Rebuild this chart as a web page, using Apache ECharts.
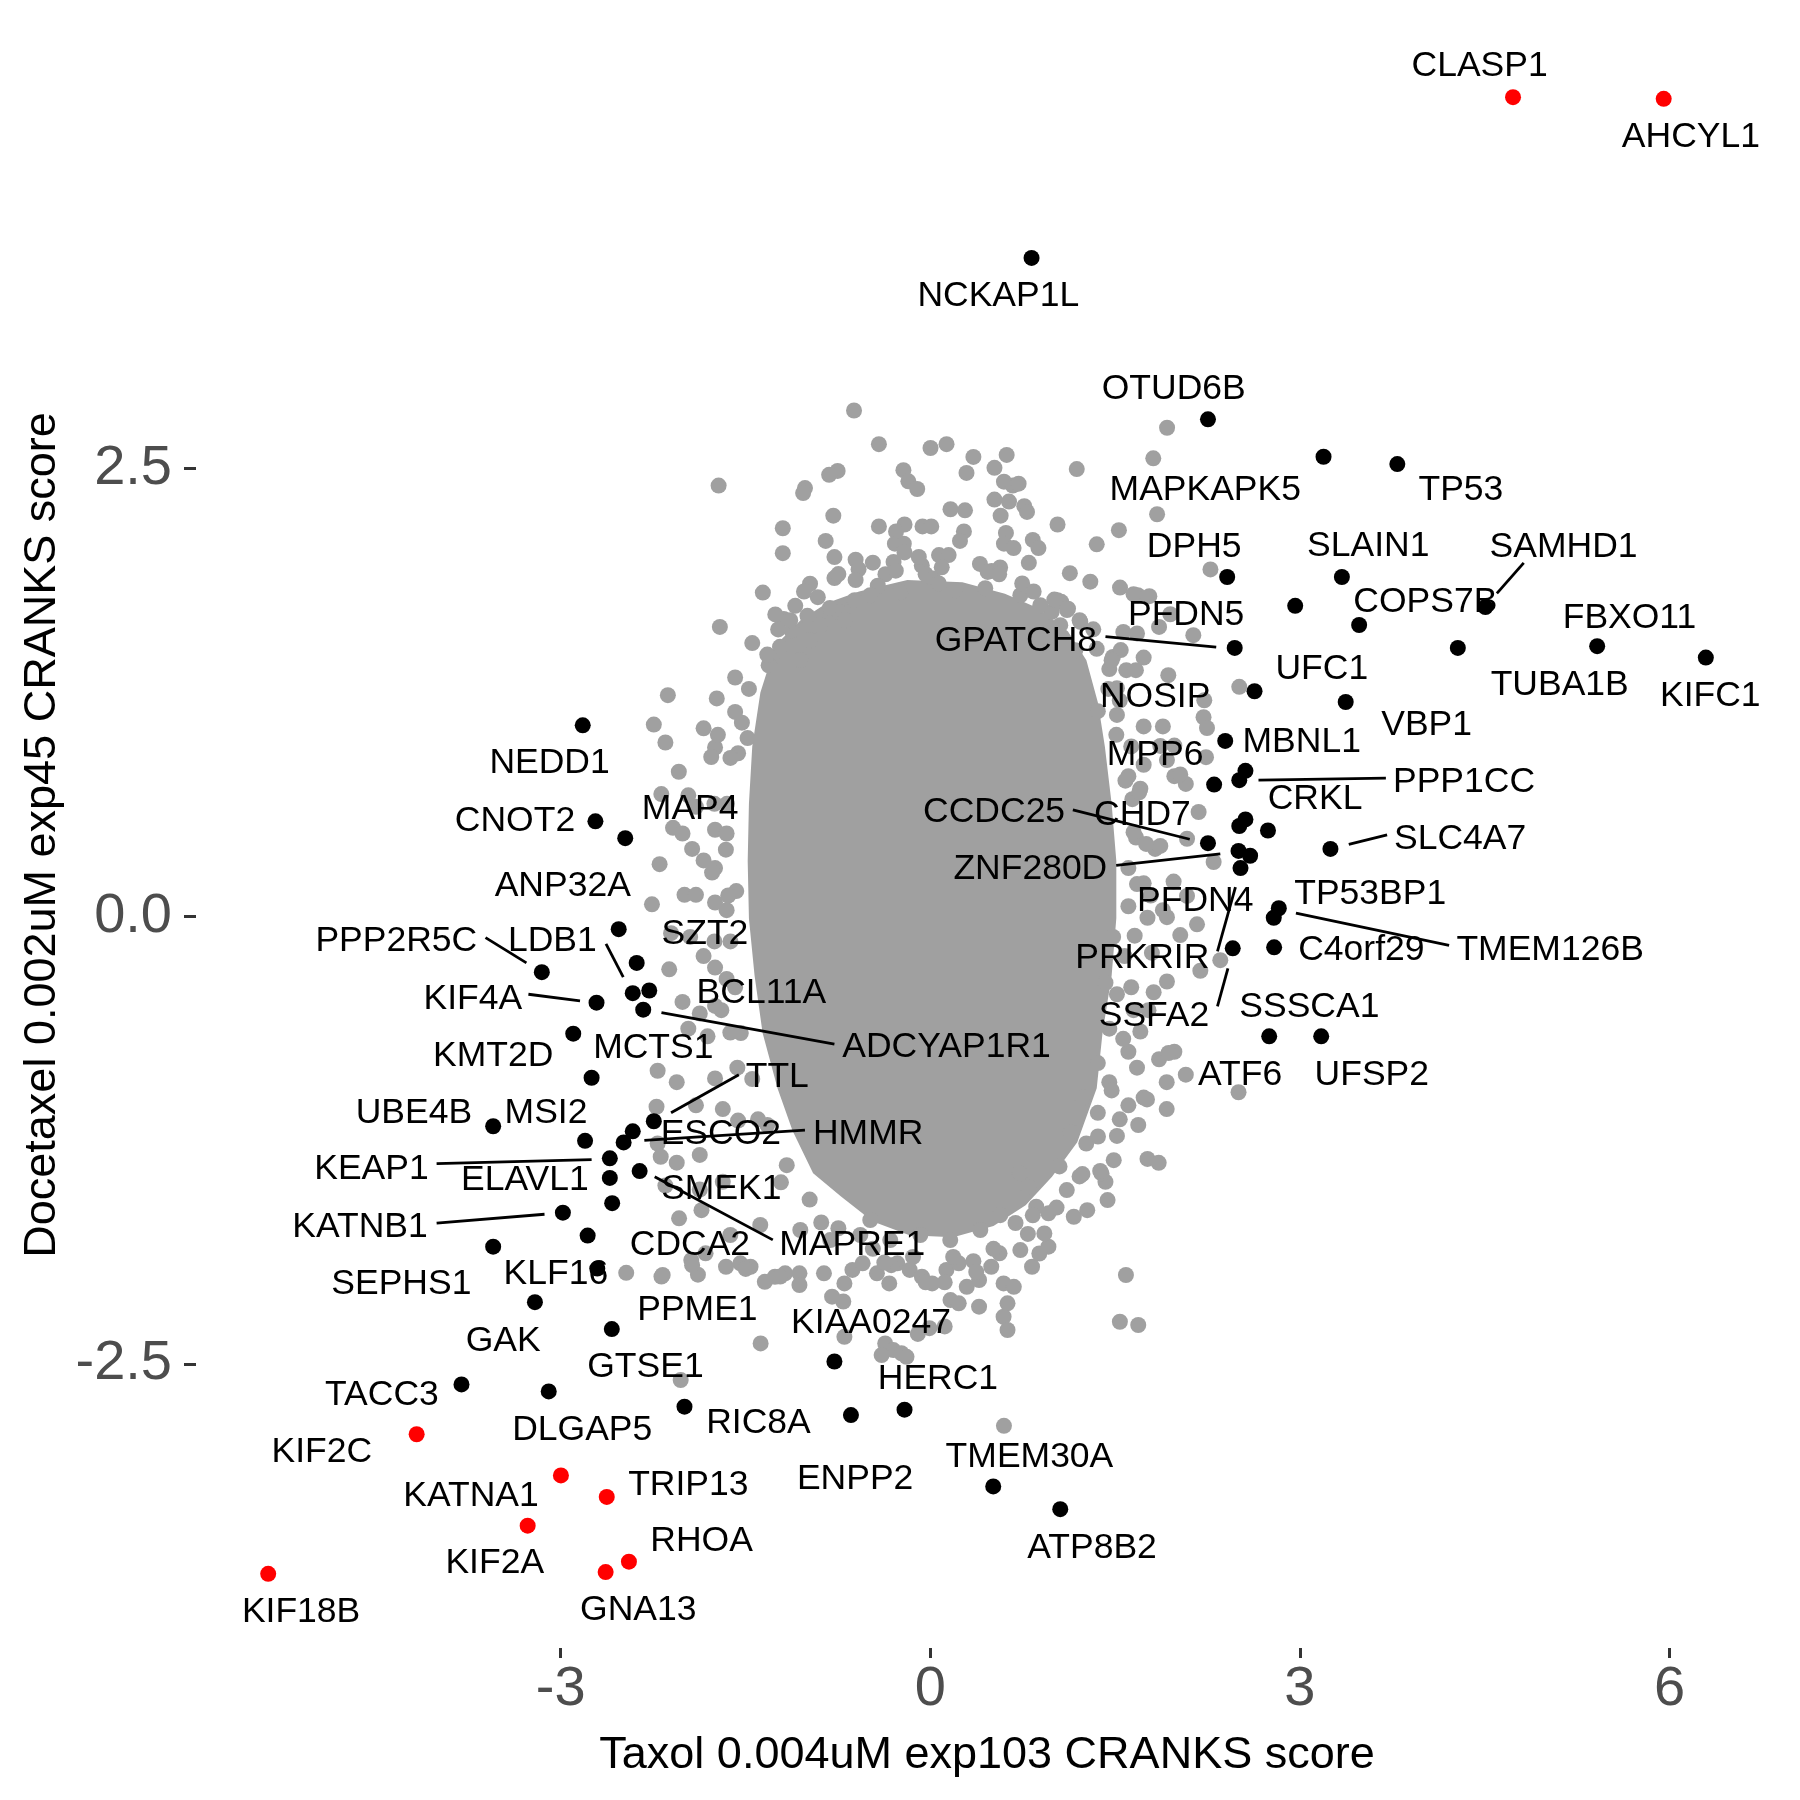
<!DOCTYPE html>
<html><head><meta charset="utf-8">
<script src="https://cdn.jsdelivr.net/npm/echarts@6/dist/echarts.min.js"></script>
<style>html,body{margin:0;padding:0;background:#fff}#chart{width:1800px;height:1800px}</style>
</head><body><div id="chart"></div>
<script>
// ---------- data ----------
const xTicks = [-3, 0, 3, 6];
const yTicks = [-2.5, 0, 2.5];
const xTitle = 'Taxol 0.004uM exp103 CRANKS score';
const yTitle = 'Docetaxel 0.002uM exp45 CRANKS score';

// outline of the fully overlapped (solid) core of background genes
const coreOutline = [[-0.839,1.748],[-0.578,1.812],[-0.186,1.876],[0.261,1.864],[0.606,1.800],[0.885,1.716],[1.118,1.588],[1.267,1.428],[1.361,1.191],[1.417,0.947],[1.472,0.627],[1.510,0.307],[1.510,-0.012],[1.472,-0.333],[1.398,-0.653],[1.351,-0.961],[1.193,-1.262],[0.988,-1.455],[0.774,-1.614],[0.513,-1.729],[0.186,-1.793],[-0.168,-1.781],[-0.466,-1.704],[-0.727,-1.563],[-0.951,-1.435],[-1.118,-1.198],[-1.240,-0.961],[-1.361,-0.653],[-1.426,-0.333],[-1.472,-0.013],[-1.482,0.307],[-1.472,0.627],[-1.445,0.947],[-1.379,1.248],[-1.258,1.511],[-1.053,1.652]];

// individually visible background genes (grey)
const bgPoints = [
[-0.619,2.822],[-1.718,2.403],[-0.417,2.634],[0.002,2.613],[0.132,2.634],[0.350,2.563],[0.620,2.574],[0.521,2.502],[0.294,2.474],[1.189,2.495],[1.922,2.726],[1.810,2.555],[1.841,2.243],[1.531,2.154],[1.351,2.075],[1.133,1.914],[1.033,2.186],[-0.752,2.485],[-0.821,2.463],[-1.017,2.389],[-1.032,2.361],[-0.218,2.489],[-0.178,2.427],[-0.106,2.384],[0.598,2.425],[0.670,2.403],[0.717,2.414],[0.521,2.325],[0.639,2.314],[0.763,2.288],[0.785,2.256],[0.164,2.271],[0.282,2.265],[0.571,2.235],[-0.787,2.235],[-1.197,2.165],[-1.197,2.026],[-0.849,2.094],[-0.778,2.004],[-0.417,2.175],[-0.209,2.186],[-0.278,2.147],[-0.287,2.079],[-0.215,2.079],[-0.209,2.030],[-0.063,2.175],[0.008,2.175],[0.273,2.147],[0.241,2.094],[0.614,2.139],[0.598,2.079],[0.676,2.054],[0.832,2.100],[0.878,2.054],[0.800,1.972],[-0.606,1.989],[-0.582,1.936],[-0.976,1.855],[-0.778,1.887],[-1.359,1.806],[1.540,1.834],[0.071,2.015],[0.149,2.015],[-0.069,1.957],[-0.038,1.908],[0.403,1.966],[0.567,1.946],[-0.364,1.908],[-0.426,1.844],[1.684,1.791],[1.778,1.786],[2.274,1.935],[1.948,1.685],[2.135,1.568],[1.567,1.586],[1.678,1.578],[1.110,1.708],[1.063,1.754],[1.218,1.642],[1.482,1.447],[1.591,1.373],[1.669,1.373],[1.932,1.345],[2.508,1.280],[-1.096,1.732],[-0.997,1.676],[-1.189,1.659],[-1.235,1.600],[-1.282,1.447],[-1.220,1.503],[-1.708,1.614],[-2.130,1.233],[-1.733,1.215],[-0.739,1.698],[0.023,1.885],[0.069,1.857],[0.498,1.927],[-0.298,1.977],[1.032,1.763],[0.985,1.698],[1.299,1.867],[1.650,1.797],[-0.815,1.720],[-1.125,1.593],[-1.312,1.400],[-2.183,0.681],
[-2.244,1.069],[-2.150,0.969],[-1.840,1.048],[-2.041,0.806],[-1.747,0.941],[-1.778,0.888],[-1.529,1.080],[-1.483,0.994],[-1.560,0.909],[-1.964,0.674],[-1.902,0.610],[-2.088,0.493],[-2.011,0.461],[-1.747,0.482],[-1.653,0.461],[-2.197,0.290],[-1.933,0.375],[-1.840,0.311],[-1.747,0.268],[-2.259,0.066],[-1.995,0.119],[-1.902,0.119],[-1.747,0.076],[-1.653,0.033],[-1.575,0.140],[-2.104,-0.095],[-1.949,-0.116],[-2.119,-0.297],[-1.840,-0.223],[-1.747,-0.287],[-1.653,-0.351],[-2.011,-0.479],[-1.871,-0.543],[-1.747,-0.501],[-1.964,-0.628],[-1.808,-0.671],[-1.623,-0.650],[-2.213,-0.863],[-2.058,-0.927],[-1.747,-0.906],[-1.902,-1.056],[-1.684,-1.077],[-1.560,-1.141],[-2.213,-1.269],[-2.058,-1.376],[-1.871,-1.333],[-2.150,-1.504],[-1.871,-1.526],[-1.684,-1.483],
[1.857,1.614],[1.732,1.443],[1.546,1.485],[1.453,1.379],[1.515,1.272],[1.360,1.144],[1.515,1.123],[1.732,1.059],[1.888,1.059],[1.981,0.952],[1.732,0.845],[1.608,0.781],[1.981,0.781],[2.074,0.738],[1.640,0.653],[1.670,0.439],[1.825,0.375],[1.608,0.268],[1.732,0.183],[1.608,0.055],[1.763,-0.009],[1.888,0.033],[1.484,-0.116],[1.577,-0.223],[1.422,-0.372],[1.515,-0.436],[1.453,-0.628],[1.608,-0.757],[1.857,-0.799],[1.981,-0.757],[2.074,-0.885],[1.919,-0.927],[1.360,-0.820],[1.453,-0.927],[1.235,-1.013],[1.360,-1.098],[1.608,-1.056],[1.732,-1.013],[1.919,-1.077],[1.142,-1.205],[1.266,-1.269],[1.515,-1.227],[1.763,-1.355],[1.049,-1.397],[1.235,-1.440],[1.422,-1.483],
[2.218,1.110],[2.246,1.050],[2.029,0.791],[2.178,0.581],[2.300,0.302],[2.165,-0.046],[2.354,-0.246],[1.934,-0.764],[1.759,-1.023],[2.502,-0.983],[1.867,0.950],[1.921,0.871],[1.705,0.711],[2.084,0.432],[1.867,0.392],[1.975,0.193],[2.084,0.113],[1.921,-0.006],[2.029,-0.106],[2.192,-0.305],[1.921,-0.365],[1.813,-0.425],[1.650,-0.525],[1.705,-0.644],[2.238,0.887],[2.224,1.205],
[-2.222,-1.064],[-2.188,-1.343],[-2.039,-1.687],[-1.857,-1.641],[-2.172,-2.003],[-1.940,-1.920],[-1.824,-1.882],[-1.658,-1.957],[-1.542,-1.938],[-1.459,-1.957],[-1.343,-2.041],[-1.261,-2.013],[-1.178,-1.994],[-1.062,-1.994],[-1.062,-2.059],[-0.863,-1.994],[-0.797,-2.124],[-0.697,-2.050],[-0.632,-1.975],[-0.549,-1.938],[-0.433,-1.994],[-0.333,-2.050],[-0.267,-1.938],[-0.167,-1.975],[-0.068,-2.013],[0.015,-2.050],[0.131,-1.975],[0.231,-1.938],[0.296,-2.069],[0.164,-2.143],[0.396,-2.031],[0.495,-1.957],[0.562,-1.882],[0.595,-2.050],[0.678,-2.069],[0.627,-2.161],[0.595,-2.236],[0.396,-2.180],[0.231,-2.161],[0.627,-2.310],[0.826,-1.957],[0.959,-1.845],[0.926,-1.771],[0.959,-1.659],[0.860,-1.622],[0.727,-1.436],[0.794,-1.511],[1.108,-1.529],[1.274,-1.641],[1.439,-1.585],[1.390,-1.436],[1.489,-1.362],[1.854,-1.377],[1.588,-2.003],[1.539,-2.264],[1.688,-2.282],[1.688,-1.166],[-0.366,-2.385],[-0.300,-2.422],[-0.234,-2.440],[-0.697,-2.348],[-1.377,-2.385],
[-2.468,-1.991],[-2.182,-2.012],[-1.886,-2.001],[-1.933,-1.948],[-2.026,-2.589],[-1.498,-1.969],[-1.218,-2.012],[-0.706,-2.151],[-0.317,-1.948],[-0.038,-2.044],[0.117,-2.044],[0.350,-1.926],[-0.007,-2.300],[-0.101,-2.332],[0.117,-2.290],[-0.395,-2.450],[-0.193,-2.460],[0.598,-2.845],[0.832,-1.670],[0.692,-1.713],
[-1.055,-1.752],[-0.812,-1.808],[-0.568,-1.780],[-0.325,-1.808],[-0.081,-1.780],[0.162,-1.808],[0.406,-1.752],[0.568,-1.669],[-1.380,-1.724],[-1.623,-1.780],[-0.487,-1.696],[0.731,-1.864],
[-0.614,1.763],[-0.487,1.791],[-0.244,1.808],[0.203,1.819],[0.446,1.830],[0.731,1.791],[0.893,1.735],[1.055,1.624],[1.177,1.484],[-0.974,1.540],[-0.893,1.624],[-0.690,1.652],[-1.055,1.429],
[-1.584,1.140],[-1.622,0.883],[-1.650,0.627],[-1.659,0.371],[-1.640,0.115],[-1.622,-0.141],[-1.584,-0.397],[-1.538,-0.653],[-1.445,-0.909],[-1.323,-1.166],[-1.165,-1.390],[-0.979,-1.582],[-0.746,-1.742],[-0.466,-1.857],[-0.140,-1.902],[0.186,-1.902],[0.513,-1.857],[0.792,-1.774],[1.025,-1.627],[1.212,-1.453],[1.361,-1.230],[1.472,-0.973],[1.566,-0.685],[1.631,-0.397],[1.659,-0.109],[1.678,0.179],[1.650,0.468],[1.584,0.756],[1.510,1.012],[1.445,1.268],[1.351,1.492],[1.212,1.652],[1.007,1.767],[0.746,1.857],[0.466,1.921],[0.093,1.947],[-0.280,1.928],[-0.606,1.876],[-0.913,1.780],[-1.137,1.652],[-1.323,1.460],[-1.472,1.268],
[-1.724,1.012],[-1.752,0.627],[-1.771,0.243],[-1.752,-0.141],[-1.696,-0.525],[-1.566,-0.846],[-1.398,-1.134],[-1.212,-1.486],[-0.885,-1.710],[-0.373,-1.934],[0.373,-1.986],[0.885,-1.883],[1.165,-1.678],[1.379,-1.422],[1.538,-1.134],[1.678,-0.846],[1.771,-0.525],[1.799,-0.205],[1.789,0.115],[1.752,0.403],[1.696,0.691],[1.631,0.947],[1.538,1.203],[1.472,1.428],[1.323,1.601],[1.118,1.716],[0.839,1.812],[0.559,1.908],[-0.093,2.005],[-0.466,1.973],[-0.746,1.909],[-1.025,1.812],[-1.258,1.684],[-1.445,1.524],[-1.584,1.332]
];

// highlighted genes (black)
const blackHits = [
[0.822,3.674,'NCKAP1L'],[2.254,2.773,'OTUD6B'],[3.192,2.564,'MAPKAPK5'],[3.791,2.523,'TP53'],[2.410,1.893,'DPH5'],[3.341,1.893,'SLAIN1'],[2.962,1.732,'PFDN5'],[4.506,1.725,'SAMHD1'],[3.481,1.625,'COPS7B'],[2.471,1.497,'GPATCH8'],[4.282,1.497,'TUBA1B'],[5.413,1.507,'FBXO11'],[6.295,1.443,'KIFC1'],[2.632,1.255,'UFC1'],[3.372,1.195,'VBP1'],[2.394,0.978,'MBNL1'],[2.558,0.811,'PPP1CC'],[2.508,0.759,'CRKL'],[2.304,0.734,'MPP6'],[2.558,0.540,'NOSIP'],[2.508,0.503,'CHD7'],[2.741,0.478,'SSFA2'],[2.254,0.407,'CCDC25'],[3.248,0.375,'SLC4A7'],[2.502,0.364,'ZNF280D'],[2.596,0.337,'SSSCA1'],[2.518,0.268,'PFDN4'],[2.829,0.044,'TP53BP1'],[2.788,-0.009,'TMEM126B'],[2.455,-0.180,'PRKRIR'],[2.791,-0.174,'C4orf29'],[2.751,-0.671,'ATF6'],[3.173,-0.671,'UFSP2'],
[-2.821,1.065,'NEDD1'],[-2.718,0.529,'CNOT2'],[-2.476,0.435,'MAP4'],[-2.529,-0.073,'ANP32A'],[-2.383,-0.261,'LDB1'],[-3.153,-0.313,'PPP2R5C'],[-2.415,-0.430,'SZT2'],[-2.281,-0.415,'BCL11A'],[-2.709,-0.483,'KIF4A'],[-2.330,-0.522,'ADCYAP1R1'],[-2.898,-0.656,'KMT2D'],[-2.749,-0.902,'MCTS1'],[-2.244,-1.145,'TTL'],[-2.415,-1.201,'ESCO2'],[-3.548,-1.173,'UBE4B'],[-2.802,-1.254,'MSI2'],[-2.489,-1.263,'HMMR'],[-2.601,-1.352,'KEAP1'],[-2.601,-1.461,'ELAVL1'],[-2.359,-1.423,'MAPRE1'],[-2.582,-1.602,'CDCA2'],[-2.982,-1.655,'KATNB1'],[-2.781,-1.783,'KLF16'],[-2.703,-1.967,'PPME1'],[-3.548,-1.845,'SEPHS1'],[-3.209,-2.155,'GAK'],[-2.585,-2.305,'GTSE1'],[-0.778,-2.486,'KIAA0247'],[-3.805,-2.614,'TACC3'],[-3.097,-2.653,'DLGAP5'],[-1.995,-2.738,'RIC8A'],[-0.644,-2.785,'ENPP2'],[-0.209,-2.755,'HERC1'],[0.511,-3.183,'TMEM30A'],[1.055,-3.310,'ATP8B2']
];

// highlighted genes (red)
const redHits = [
[4.730,4.571,'CLASP1'],[5.953,4.562,'AHCYL1'],[-4.169,-2.892,'KIF2C'],[-2.998,-3.122,'KATNA1'],[-2.626,-3.242,'TRIP13'],[-3.268,-3.402,'KIF2A'],[-2.446,-3.603,'RHOA'],[-2.635,-3.661,'GNA13'],[-5.374,-3.671,'KIF18B']
];

// repelled label anchors [name, x, y]
const labelPos = [
['CLASP1',4.459,4.766],['AHCYL1',6.174,4.366],['NCKAP1L',0.552,3.482],['OTUD6B',1.976,2.961],['MAPKAPK5',2.232,2.397],['TP53',4.307,2.399],['DPH5',2.142,2.081],['SLAIN1',3.555,2.083],['SAMHD1',5.140,2.079],['PFDN5',2.077,1.697],['COPS7B',4.018,1.774],['GPATCH8',0.695,1.555],['FBXO11',5.675,1.685],['TUBA1B',5.109,1.310],['KIFC1',6.331,1.248],['UFC1',3.178,1.395],['NOSIP',1.825,1.241],['VBP1',4.029,1.083],['MBNL1',3.015,0.989],['MPP6',1.825,0.915],['PPP1CC',4.332,0.765],['CRKL',3.123,0.673],['CCDC25',0.518,0.598],['CHD7',1.722,0.584],['SLC4A7',4.301,0.449],['ZNF280D',0.812,0.282],['TP53BP1',3.571,0.140],['PFDN4',2.151,0.103],['PRKRIR',1.721,-0.218],['C4orf29',3.499,-0.169],['TMEM126B',5.031,-0.169],['SSSCA1',3.077,-0.489],['SSFA2',1.816,-0.538],['ATF6',2.515,-0.869],['UFSP2',3.584,-0.869],
['NEDD1',-3.090,0.872],['CNOT2',-3.371,0.551],['MAP4',-1.949,0.615],['ANP32A',-2.983,0.189],['PPP2R5C',-4.334,-0.121],['LDB1',-3.068,-0.121],['SZT2',-1.829,-0.084],['BCL11A',-1.371,-0.410],['KIF4A',-3.713,-0.445],['MCTS1',-2.248,-0.717],['ADCYAP1R1',0.132,-0.714],['KMT2D',-3.548,-0.760],['TTL',-1.242,-0.879],['UBE4B',-4.191,-1.083],['MSI2',-3.119,-1.083],['ESCO2',-1.700,-1.200],['HMMR',-0.504,-1.200],['KEAP1',-4.536,-1.392],['ELAVL1',-3.291,-1.455],['SMEK1',-1.696,-1.506],['KATNB1',-4.629,-1.716],['CDCA2',-1.951,-1.820],['MAPRE1',-0.633,-1.820],['KLF16',-3.039,-1.978],['SEPHS1',-4.293,-2.036],['PPME1',-1.890,-2.181],['KIAA0247',-0.481,-2.250],['GAK',-3.467,-2.354],['GTSE1',-2.312,-2.498],['HERC1',0.062,-2.564],['TACC3',-4.451,-2.656],['RIC8A',-1.395,-2.810],['DLGAP5',-2.825,-2.852],['KIF2C',-4.939,-2.971],['TMEM30A',0.805,-3.002],['ENPP2',-0.610,-3.126],['TRIP13',-1.964,-3.158],['KATNA1',-3.728,-3.217],['RHOA',-1.856,-3.471],['ATP8B2',1.313,-3.510],['KIF2A',-3.535,-3.594],['GNA13',-2.370,-3.855],['KIF18B',-5.107,-3.868]
];

// label leader segments [x1, y1, x2, y2]
const leaderLines = [
[4.817,1.972,4.599,1.801],[1.422,1.560,2.321,1.501],[2.664,0.759,3.698,0.770],[1.157,0.593,2.106,0.429],[1.509,0.283,2.354,0.348],[3.397,0.401,3.708,0.454],[2.968,0.017,4.211,-0.163],[2.477,0.162,2.331,-0.197],[2.416,-0.291,2.331,-0.504],
[-3.610,-0.120,-3.278,-0.261],[-2.632,-0.155,-2.492,-0.340],[-3.262,-0.436,-2.843,-0.473],[-2.182,-0.539,-0.778,-0.714],[-1.554,-0.885,-2.104,-1.098],[-1.017,-1.194,-2.321,-1.252],[-4.007,-1.382,-2.749,-1.359],[-2.237,-1.455,-1.278,-1.807],[-4.007,-1.713,-3.131,-1.664]
];

// ---------- chart ----------
const FONT = '"Liberation Sans", Arial, Helvetica, sans-serif';
const GREY = '#A0A0A0';
const PT = 16;
const chart = echarts.init(document.getElementById('chart'), null, {renderer: 'canvas', width: 1800, height: 1800});

const option = {
  animation: false,
  backgroundColor: '#ffffff',
  grid: {left: 196, right: 18.4, top: 23, bottom: 152, containLabel: false},
  xAxis: {
    type: 'value', min: -5.96, max: 6.91,
    axisLine: {show: false, onZero: false}, splitLine: {show: false},
    axisTick: {show: true, customValues: xTicks, length: 10, lineStyle: {color: '#333333', width: 3}},
    axisLabel: {customValues: xTicks, fontSize: 56, color: '#4D4D4D', fontFamily: FONT, margin: 14,
      formatter: v => String(v)}
  },
  yAxis: {
    type: 'value', min: -4.085, max: 4.985,
    axisLine: {show: false, onZero: false}, splitLine: {show: false},
    axisTick: {show: true, customValues: yTicks, length: 12, lineStyle: {color: '#333333', width: 3}},
    axisLabel: {customValues: yTicks, fontSize: 56, color: '#4D4D4D', fontFamily: FONT, margin: 24,
      formatter: v => Number(v).toFixed(1)}
  },
  series: [
    {
      type: 'custom', name: 'core', silent: true, clip: false, z: 1,
      data: [[0, 0]],
      renderItem: (params, api) => ({
        type: 'polygon',
        shape: {points: coreOutline.map(p => api.coord(p))},
        style: {fill: GREY}
      })
    },
    {
      type: 'scatter', name: 'background', silent: true, z: 2,
      data: bgPoints, symbolSize: PT, itemStyle: {color: GREY, opacity: 1}
    },
    {
      type: 'scatter', name: 'hits', silent: true, z: 3,
      data: blackHits.map(d => [d[0], d[1]]), symbolSize: PT, itemStyle: {color: '#000000', opacity: 1}
    },
    {
      type: 'scatter', name: 'top hits', silent: true, z: 4,
      data: redHits.map(d => [d[0], d[1]]), symbolSize: PT, itemStyle: {color: '#FF0000', opacity: 1}
    },
    {
      type: 'custom', name: 'segments', silent: true, clip: false, z: 10,
      data: leaderLines,
      encode: {x: [0, 2], y: [1, 3]},
      renderItem: (params, api) => {
        const a = api.coord([api.value(0), api.value(1)]);
        const b = api.coord([api.value(2), api.value(3)]);
        return {type: 'line', shape: {x1: a[0], y1: a[1], x2: b[0], y2: b[1]},
          style: {stroke: '#000000', lineWidth: 2.8, lineCap: 'butt'}};
      }
    },
    {
      type: 'custom', name: 'labels', silent: true, clip: false, z: 11,
      data: labelPos.map(l => [l[1], l[2]]),
      renderItem: (params, api) => {
        const c = api.coord([api.value(0), api.value(1)]);
        return {type: 'text', x: c[0], y: c[1] + 3.5,
          style: {text: labelPos[params.dataIndex][0], font: '35.5px ' + FONT, fill: '#000000',
            align: 'center', verticalAlign: 'middle', textAlign: 'center', textVerticalAlign: 'middle'}};
      }
    }
  ],
  graphic: [
    {type: 'text', x: 987, y: 1756, silent: true,
      style: {text: xTitle, font: '45px ' + FONT, fill: '#000000',
        align: 'center', verticalAlign: 'middle', textAlign: 'center', textVerticalAlign: 'middle'}},
    {type: 'text', x: 43, y: 835, rotation: Math.PI / 2, silent: true,
      style: {text: yTitle, font: '45px ' + FONT, fill: '#000000',
        align: 'center', verticalAlign: 'middle', textAlign: 'center', textVerticalAlign: 'middle'}}
  ]
};
chart.setOption(option);
</script>
</body></html>
